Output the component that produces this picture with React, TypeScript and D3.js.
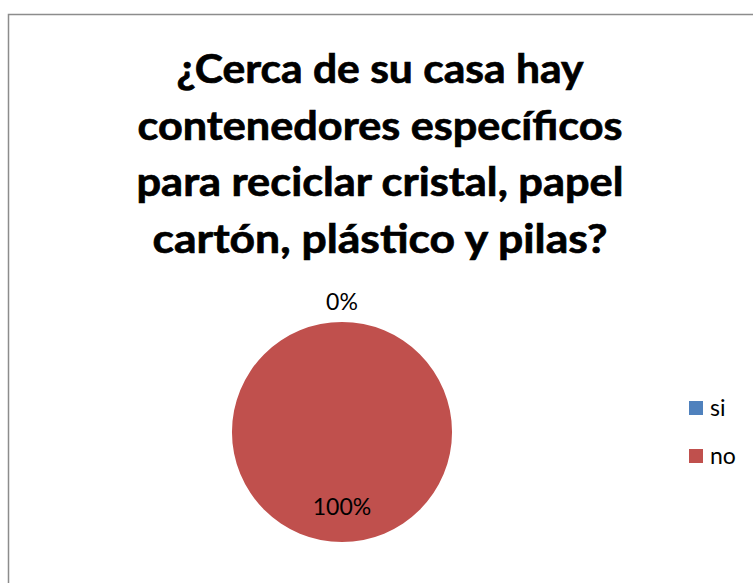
import * as d3 from "d3";

const categories = ["si", "no"];
const values = [0, 100];
const colors = ["#4F81BD", "#C0504D"];
const titleLines = [
  "¿Cerca de su casa hay",
  "contenedores específicos",
  "para reciclar cristal, papel",
  "cartón, plástico y pilas?",
];
const titleWidths = [407, 485, 487, 455];

const W = 753;
const H = 583;
const cx = 342;
const cy = 432;
const r = 110;

export default function App() {
  const data = categories.map((c, i) => ({ name: c, value: values[i] }));
  const total = d3.sum(values);
  const pie = d3.pie<any>().sort(null).value((d) => d.value);
  const arcs = pie(data);
  const arc = d3.arc<any>().innerRadius(0).outerRadius(r);
  const inside = d3.arc<any>().innerRadius(r * 0.68).outerRadius(r * 0.68);
  const outside = d3.arc<any>().innerRadius(r + 20).outerRadius(r + 20);
  const fmt = d3.format(".0%");
  const legendY = d3.scalePoint<string>().domain(categories).range([408, 456]);

  return (
    <svg
      width={W}
      height={H}
      style={{ position: "absolute", left: 0, top: 0, background: "#fff" }}
      fontFamily="Lato, 'Open Sans', sans-serif"
    >
      <rect x={8.5} y={14.5} width={W + 20} height={H + 20} fill="#fff" stroke="#8c8c8c" strokeWidth={1.5} />
      <g fontWeight="bold" fontSize={40} textAnchor="middle" fill="#000" stroke="#000" strokeWidth={0.7}>
        {titleLines.map((t, i) => (
          <text
            key={i}
            x={380}
            y={83 + i * 56.7}
            textLength={titleWidths[i]}
            lengthAdjust="spacingAndGlyphs"
          >
            {t}
          </text>
        ))}
      </g>
      <g transform={`translate(${cx},${cy})`}>
        {arcs.map((a, i) => (
          <path key={i} d={arc(a) || ""} fill={colors[i]} />
        ))}
        {arcs.map((a, i) => {
          const frac = a.data.value / total;
          const [x, y] = frac === 0 ? outside.centroid(a) : inside.centroid(a);
          return (
            <text key={i} x={x} y={y} dy="0.35em" textAnchor="middle" fontSize={23} fill="#000">
              {fmt(frac)}
            </text>
          );
        })}
      </g>
      <g>
        {categories.map((c, i) => (
          <g key={c} transform={`translate(689,${legendY(c)})`}>
            <rect x={0} y={-7} width={14} height={14} fill={colors[i]} />
            <text x={21} y={0} dy="0.35em" fontSize={23} fill="#000">
              {c}
            </text>
          </g>
        ))}
      </g>
    </svg>
  );
}
